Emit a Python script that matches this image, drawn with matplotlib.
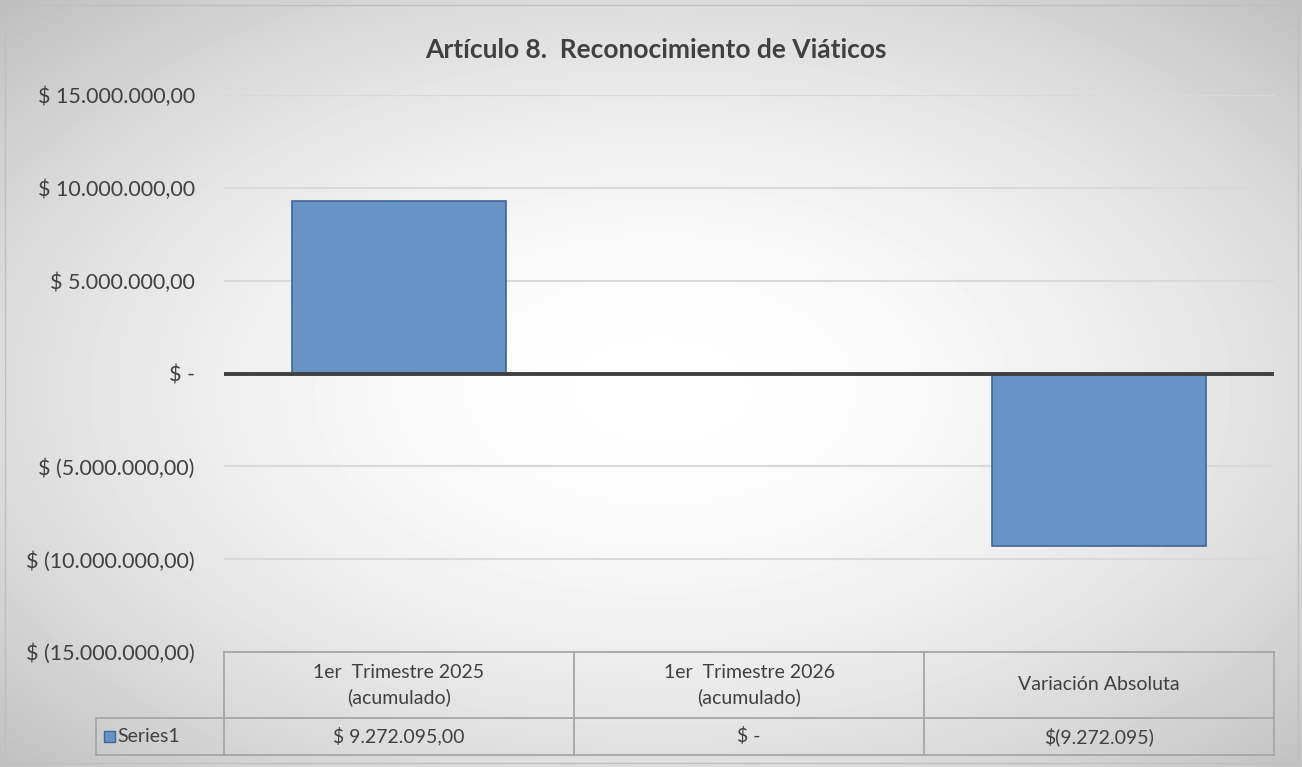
import numpy as np
import matplotlib
matplotlib.use('Agg')
import matplotlib.pyplot as plt
from matplotlib.ticker import MultipleLocator, FuncFormatter
from matplotlib.patches import Rectangle

plt.rcParams['font.family'] = ['Lato', 'DejaVu Sans']

title = 'Artículo 8.  Reconocimiento de Viáticos'
categories = ['1er  Trimestre 2025\n(acumulado)', '1er  Trimestre 2026\n(acumulado)', 'Variación Absoluta']
values = [9272095.0, 0.0, -9272095.0]
table_values = ['$ 9.272.095,00', '$ -', '$(9.272.095)']
series_name = 'Series1'

W, H = 1302, 767
BAR = '#6893c6'
EDGE = '#3d6699'
TXT = '#404040'
GRID = '#d9d9d9'
TLINE = '#a6a6a6'


def money(v, pos=None):
    if v == 0:
        return '$ -'
    s = f'{abs(v):,.2f}'.replace(',', 'X').replace('.', ',').replace('X', '.')
    return f'$ ({s})' if v < 0 else f'$ {s}'


fig = plt.figure(figsize=(W / 100, H / 100), dpi=100)

# radial gradient background (white centre, grey corners)
bg = fig.add_axes([0, 0, 1, 1], zorder=-10)
yy, xx = np.mgrid[0:H, 0:W]
r = np.sqrt(((xx - 660) / (W / 2)) ** 2 + ((yy - 390) / (H / 2)) ** 2) / np.sqrt(2)
shade = 1 - 0.25 * np.clip(r, 0, 1) ** 1.8
bg.imshow(shade, cmap='gray', vmin=0, vmax=1, aspect='auto', interpolation='bilinear')
bg.add_patch(Rectangle((4, 4), W - 9, H - 9, fill=False, edgecolor='#bfbfbf', lw=1))
bg.set_axis_off()

# main plot area
ax = fig.add_axes([224 / W, (H - 652) / H, 1050 / W, 557 / H])
ax.patch.set_alpha(0)
x = np.arange(len(values))
ax.bar(x, values, width=0.61, color=BAR, edgecolor=EDGE, linewidth=1.2, zorder=3)
ax.set_xlim(-0.5, len(values) - 0.5)
ax.set_ylim(-15e6, 15e6)
ax.yaxis.set_major_locator(MultipleLocator(5e6))
ax.yaxis.set_major_formatter(FuncFormatter(money))
ax.grid(axis='y', color=GRID, lw=1.5, zorder=0)
ax.axhline(0, color='#404040', lw=2.8, zorder=4)
ax.set_xticks([])
ax.tick_params(axis='y', length=0, pad=21, labelsize=15.5, labelcolor=TXT)
for s in ax.spines.values():
    s.set_visible(False)

fig.text(0.504, 1 - 50 / H, title, ha='center', va='center', fontsize=19,
         fontweight='bold', color=TXT)

# data table
tb = fig.add_axes([224 / W, (H - 755) / H, 1050 / W, 103 / H])
tb.patch.set_alpha(0)
tb.set_xlim(-0.5, len(values) - 0.5)
tb.set_ylim(0, 1)
tb.set_axis_off()
mid = 37 / 103
left = -0.5 - 128 / 350
lk = dict(color=TLINE, lw=1.3, clip_on=False)
tb.plot([-0.5, len(values) - 0.5], [1, 1], **lk)
tb.plot([left, len(values) - 0.5], [mid, mid], **lk)
tb.plot([left, len(values) - 0.5], [0, 0], **lk)
tb.plot([left, left], [0, mid], **lk)
for i in range(len(values) + 1):
    tb.plot([i - 0.5, i - 0.5], [0, 1], **lk)
for i, (c, v) in enumerate(zip(categories, table_values)):
    tb.text(i, (1 + mid) / 2, c, ha='center', va='center', fontsize=14, color=TXT,
            linespacing=1.45)
    tb.text(i, mid / 2, v, ha='center', va='center', fontsize=14, color=TXT)
tb.add_patch(Rectangle((left + 8 / 350, mid / 2 - 5.5 / 103), 11 / 350, 11 / 103,
                       facecolor=BAR, edgecolor=EDGE, lw=1, clip_on=False))
tb.text(left + 21 / 350, mid / 2, series_name, ha='left', va='center', fontsize=14,
        color=TXT, clip_on=False)

fig.savefig('out.png', dpi=100)
plt.close(fig)
